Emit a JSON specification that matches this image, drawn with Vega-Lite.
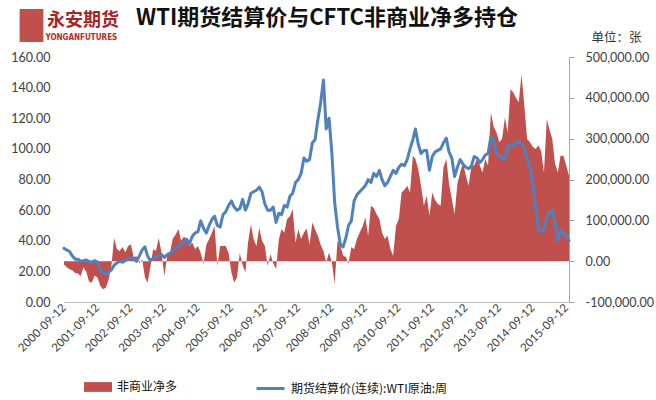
{
  "$schema": "https://vega.github.io/schema/vega-lite/v6.json",
  "width": 505,
  "height": 245,
  "autosize": {"type": "none"},
  "padding": {"left": 64, "top": 57, "right": 87, "bottom": 98},
  "background": "white",
  "config": {"view": {"stroke": null}, "font": "Noto Sans CJK SC", "legend": {"padding": 0}, "axis": {"labelOverlap": false}},
  "title": {"text": "WTI期货结算价与CFTC非商业净多持仓", "anchor": "start", "frame": "group", "dx": 72, "dy": 32, "offset": 0, "baseline": "middle", "fontSize": 22, "fontWeight": "bold", "font": "Noto Sans CJK SC", "color": "#111111"},
  "data": {"values": [
    {"d":"2000-09-12","p":35,"n":-8000},{"d":"2000-10-12","p":34,"n":-15000},{"d":"2000-11-12","p":33,"n":-20000},{"d":"2000-12-12","p":30,"n":-22000},
    {"d":"2001-01-12","p":28,"n":-29000},{"d":"2001-02-12","p":28,"n":-30000},{"d":"2001-03-12","p":26.5,"n":-37000},{"d":"2001-04-12","p":27,"n":-15000},{"d":"2001-05-12","p":27.5,"n":-25000},{"d":"2001-06-12","p":26.5,"n":-50000},{"d":"2001-07-12","p":26,"n":-53000},{"d":"2001-08-12","p":27,"n":-35000},{"d":"2001-09-12","p":26,"n":-40000},{"d":"2001-10-12","p":21,"n":-60000},{"d":"2001-11-12","p":19,"n":-69000},{"d":"2001-12-12","p":18,"n":-65000},
    {"d":"2002-01-12","p":19.5,"n":-45000},{"d":"2002-02-12","p":21,"n":-10000},{"d":"2002-03-12","p":24,"n":57000},{"d":"2002-04-12","p":25.5,"n":30000},{"d":"2002-05-12","p":26.5,"n":25000},{"d":"2002-06-12","p":26,"n":35000},{"d":"2002-07-12","p":27,"n":22000},{"d":"2002-08-12","p":28,"n":37000},{"d":"2002-09-12","p":29,"n":41000},{"d":"2002-10-12","p":28,"n":10000},{"d":"2002-11-12","p":26.5,"n":12000},{"d":"2002-12-12","p":30,"n":-5000},
    {"d":"2003-01-12","p":34,"n":5000},{"d":"2003-02-12","p":36,"n":-40000},{"d":"2003-03-12","p":30,"n":-53000},{"d":"2003-04-12","p":27,"n":-15000},{"d":"2003-05-12","p":28.5,"n":29000},{"d":"2003-06-12","p":29.5,"n":25000},{"d":"2003-07-12","p":30.5,"n":57000},{"d":"2003-08-12","p":31,"n":20000},{"d":"2003-09-12","p":29,"n":-37000},{"d":"2003-10-12","p":31,"n":12000},{"d":"2003-11-12","p":32,"n":20000},{"d":"2003-12-12","p":33,"n":55000},
    {"d":"2004-01-12","p":35,"n":65000},{"d":"2004-02-12","p":36,"n":79000},{"d":"2004-03-12","p":38,"n":50000},{"d":"2004-04-12","p":39,"n":60000},{"d":"2004-05-12","p":41,"n":55000},{"d":"2004-06-12","p":38,"n":37000},{"d":"2004-07-12","p":43,"n":45000},{"d":"2004-08-12","p":45,"n":30000},{"d":"2004-09-12","p":46,"n":37000},{"d":"2004-10-12","p":53,"n":20000},{"d":"2004-11-12","p":48,"n":-7000},{"d":"2004-12-12","p":45,"n":40000},
    {"d":"2005-01-12","p":50,"n":54000},{"d":"2005-02-12","p":54,"n":70000},{"d":"2005-03-12","p":56,"n":86000},{"d":"2005-04-12","p":50,"n":-11000},{"d":"2005-05-12","p":49,"n":37000},{"d":"2005-06-12","p":57,"n":37000},{"d":"2005-07-12","p":59,"n":37000},{"d":"2005-08-12","p":63,"n":20000},{"d":"2005-09-12","p":66,"n":-28000},{"d":"2005-10-12","p":62,"n":-52000},{"d":"2005-11-12","p":60,"n":-40000},{"d":"2005-12-12","p":61,"n":20000},
    {"d":"2006-01-12","p":67,"n":-10000},{"d":"2006-02-12","p":60,"n":-28000},{"d":"2006-03-12","p":64,"n":45000},{"d":"2006-04-12","p":71,"n":90000},{"d":"2006-05-12","p":72,"n":54000},{"d":"2006-06-12","p":73,"n":37000},{"d":"2006-07-12","p":75,"n":82000},{"d":"2006-08-12","p":72,"n":50000},{"d":"2006-09-12","p":64,"n":37000},{"d":"2006-10-12","p":60,"n":-11000},{"d":"2006-11-12","p":60,"n":17000},{"d":"2006-12-12","p":62,"n":-5000},
    {"d":"2007-01-12","p":52,"n":-20000},{"d":"2007-02-12","p":58,"n":54000},{"d":"2007-03-12","p":57,"n":78000},{"d":"2007-04-12","p":63,"n":70000},{"d":"2007-05-12","p":62,"n":103000},{"d":"2007-06-12","p":69,"n":110000},{"d":"2007-07-12","p":71,"n":127000},{"d":"2007-08-12","p":78,"n":45000},{"d":"2007-09-12","p":80,"n":78000},{"d":"2007-10-12","p":84,"n":54000},{"d":"2007-11-12","p":94,"n":70000},{"d":"2007-12-12","p":92,"n":80000},
    {"d":"2008-01-12","p":93,"n":40000},{"d":"2008-02-12","p":104,"n":95000},{"d":"2008-03-12","p":106,"n":78000},{"d":"2008-04-12","p":119,"n":62000},{"d":"2008-05-12","p":130,"n":40000},{"d":"2008-06-12","p":145,"n":25000},{"d":"2008-07-12","p":113,"n":-3000},{"d":"2008-08-12","p":120,"n":21000},{"d":"2008-09-12","p":97,"n":-3000},{"d":"2008-10-12","p":65,"n":-55000},{"d":"2008-11-12","p":49,"n":50000},{"d":"2008-12-12","p":38,"n":40000},
    {"d":"2009-01-12","p":36,"n":13000},{"d":"2009-02-12","p":42,"n":10000},{"d":"2009-03-12","p":50,"n":-7000},{"d":"2009-04-12","p":53,"n":35000},{"d":"2009-05-12","p":66,"n":29000},{"d":"2009-06-12","p":70,"n":54000},{"d":"2009-07-12","p":72,"n":70000},{"d":"2009-08-12","p":74,"n":85000},{"d":"2009-09-12","p":76,"n":107000},{"d":"2009-10-12","p":80,"n":62000},{"d":"2009-11-12","p":78,"n":136000},{"d":"2009-12-12","p":84,"n":130000},
    {"d":"2010-01-12","p":82,"n":115000},{"d":"2010-02-12","p":86,"n":103000},{"d":"2010-03-12","p":80,"n":70000},{"d":"2010-04-12","p":76,"n":54000},{"d":"2010-05-12","p":78,"n":62000},{"d":"2010-06-12","p":82,"n":30000},{"d":"2010-07-12","p":86,"n":13000},{"d":"2010-08-12","p":84,"n":87000},{"d":"2010-09-12","p":88,"n":103000},{"d":"2010-10-12","p":90,"n":168000},{"d":"2010-11-12","p":89,"n":175000},{"d":"2010-12-12","p":93,"n":185000},
    {"d":"2011-01-12","p":100,"n":168000},{"d":"2011-02-12","p":106,"n":258000},{"d":"2011-03-12","p":113,"n":250000},{"d":"2011-04-12","p":103,"n":225000},{"d":"2011-05-12","p":97,"n":185000},{"d":"2011-06-12","p":99,"n":136000},{"d":"2011-07-12","p":99,"n":160000},{"d":"2011-08-12","p":86,"n":111000},{"d":"2011-09-12","p":95,"n":168000},{"d":"2011-10-12","p":98,"n":150000},{"d":"2011-11-12","p":99,"n":140000},{"d":"2011-12-12","p":100,"n":136000},
    {"d":"2012-01-12","p":104,"n":230000},{"d":"2012-02-12","p":107,"n":250000},{"d":"2012-03-12","p":98,"n":190000},{"d":"2012-04-12","p":94,"n":152000},{"d":"2012-05-12","p":82,"n":115000},{"d":"2012-06-12","p":88,"n":190000},{"d":"2012-07-12","p":93,"n":217000},{"d":"2012-08-12","p":90,"n":242000},{"d":"2012-09-12","p":88,"n":209000},{"d":"2012-10-12","p":87,"n":185000},{"d":"2012-11-12","p":89,"n":234000},{"d":"2012-12-12","p":95,"n":234000},
    {"d":"2013-01-12","p":94,"n":250000},{"d":"2013-02-12","p":91,"n":234000},{"d":"2013-03-12","p":93,"n":217000},{"d":"2013-04-12","p":96,"n":250000},{"d":"2013-05-12","p":97,"n":234000},{"d":"2013-06-12","p":108,"n":364000},{"d":"2013-07-12","p":106,"n":330000},{"d":"2013-08-12","p":97,"n":315000},{"d":"2013-09-12","p":95,"n":291000},{"d":"2013-10-12","p":94,"n":300000},{"d":"2013-11-12","p":93,"n":352000},{"d":"2013-12-12","p":101,"n":315000},
    {"d":"2014-01-12","p":103,"n":421000},{"d":"2014-02-12","p":102,"n":413000},{"d":"2014-03-12","p":104,"n":400000},{"d":"2014-04-12","p":105,"n":389000},{"d":"2014-05-12","p":103,"n":458000},{"d":"2014-06-12","p":100,"n":380000},{"d":"2014-07-12","p":94,"n":299000},{"d":"2014-08-12","p":88,"n":291000},{"d":"2014-09-12","p":78,"n":280000},{"d":"2014-10-12","p":62,"n":275000},{"d":"2014-11-12","p":48,"n":283000},{"d":"2014-12-12","p":46,"n":270000},
    {"d":"2015-01-12","p":47,"n":217000},{"d":"2015-02-12","p":55,"n":348000},{"d":"2015-03-12","p":59,"n":323000},{"d":"2015-04-12","p":60,"n":300000},{"d":"2015-05-12","p":52,"n":240000},{"d":"2015-06-12","p":40,"n":217000},{"d":"2015-07-12","p":47,"n":258000},{"d":"2015-08-12","p":45,"n":258000},{"d":"2015-09-12","p":44,"n":234000},{"d":"2015-10-12","p":40,"n":209000}
  ]},
  "encoding": {
    "x": {
      "field": "d", "type": "temporal",
      "scale": {"type": "utc", "domain": [{"year": 2000, "month": 9, "date": 12, "utc": true}, {"year": 2015, "month": 10, "date": 12, "utc": true}]},
      "axis": {
        "values": [
          {"year": 2000, "month": 9, "date": 12, "utc": true}, {"year": 2001, "month": 9, "date": 12, "utc": true}, {"year": 2002, "month": 9, "date": 12, "utc": true}, {"year": 2003, "month": 9, "date": 12, "utc": true},
          {"year": 2004, "month": 9, "date": 12, "utc": true}, {"year": 2005, "month": 9, "date": 12, "utc": true}, {"year": 2006, "month": 9, "date": 12, "utc": true}, {"year": 2007, "month": 9, "date": 12, "utc": true},
          {"year": 2008, "month": 9, "date": 12, "utc": true}, {"year": 2009, "month": 9, "date": 12, "utc": true}, {"year": 2010, "month": 9, "date": 12, "utc": true}, {"year": 2011, "month": 9, "date": 12, "utc": true},
          {"year": 2012, "month": 9, "date": 12, "utc": true}, {"year": 2013, "month": 9, "date": 12, "utc": true}, {"year": 2014, "month": 9, "date": 12, "utc": true}, {"year": 2015, "month": 9, "date": 12, "utc": true}
        ],
        "labelExpr": "utcFormat(datum.value, '%Y-%m-%d')",
        "labelAngle": -45, "labelAlign": "right", "labelBaseline": "middle", "labelPadding": 4,
        "labelFont": "Lato", "labelFontSize": 11.5, "labelColor": "#404040",
        "labelOverlap": false, "labelFlush": false, "labelBound": false,
        "ticks": false, "grid": false, "domainColor": "#BFBFBF", "domainWidth": 1,
        "title": "YONGANFUTURES", "titleX": -19, "titleY": -265, "titleAlign": "left", "titleBaseline": "middle", "titleAngle": 0,
        "titleFont": "Liberation Sans Narrow, DejaVu Sans Condensed, sans-serif", "titleFontSize": 8, "titleFontWeight": "bold", "titleColor": "#C0282A"
      }
    }
  },
  "layer": [
    {
      "mark": {"type": "area", "interpolate": "linear"},
      "encoding": {
        "y": {
          "field": "n", "type": "quantitative",
          "scale": {"domain": [-100000, 500000], "nice": false, "zero": false},
          "axis": {
            "orient": "right", "values": [-100000, 0, 100000, 200000, 300000, 400000, 500000],
            "labelExpr": "replace(format(datum.value, ',.2f'), '\u2212', '-')",
            "grid": false, "domainColor": "#A6A6A6", "tickColor": "#A6A6A6", "tickSize": 5, "labelPadding": 11,
            "labelFont": "Lato", "labelFontSize": 12.5, "labelColor": "#404040",
            "title": "单位：张", "titleAngle": 0, "titleX": 22, "titleY": -20, "titleAlign": "left", "titleBaseline": "middle",
            "titleFont": "Noto Sans CJK SC", "titleFontSize": 12.5, "titleFontWeight": "normal", "titleColor": "#333333"
          }
        },
        "y2": {"datum": 0},
        "fill": {
          "datum": "非商业净多", "type": "nominal",
          "scale": {"range": ["#C0504D"]},
          "legend": {"orient": "none", "legendX": 20, "legendY": 316, "title": null, "symbolType": "M-1,-0.35H1V0.35H-1Z", "symbolSize": 784, "symbolStrokeWidth": 0, "labelFont": "Noto Sans CJK SC", "labelFontSize": 12, "labelColor": "#111111", "labelOffset": 5}
        },
        "opacity": {
          "datum": "永安期货", "type": "ordinal",
          "scale": {"range": [1]},
          "legend": {"orient": "none", "legendX": -50, "legendY": -49, "title": null, "symbolType": "M-0.72,-1H0.72V1H-0.72Z", "symbolSize": 1089, "symbolFillColor": "#D42A2A", "symbolStrokeColor": "#D42A2A", "labelFont": "Noto Sans CJK SC", "labelFontSize": 18, "labelFontWeight": "bold", "labelColor": "#A82424", "labelOffset": -2, "labelBaseline": "alphabetic",
            "encode": {"symbols": {"update": {"fill": {"value": "#D42A2A"}, "stroke": {"value": "#D42A2A"}, "opacity": {"value": 1}}}, "labels": {"update": {"dy": {"value": 3}}}}}
        }
      }
    },
    {
      "mark": {"type": "line", "strokeWidth": 3, "strokeJoin": "round", "strokeCap": "round"},
      "encoding": {
        "y": {
          "field": "p", "type": "quantitative",
          "scale": {"domain": [0, 160], "nice": false},
          "axis": {
            "orient": "left", "values": [0, 20, 40, 60, 80, 100, 120, 140, 160], "format": ".2f",
            "domain": false, "ticks": false, "grid": false, "labelPadding": 14,
            "labelFont": "Lato", "labelFontSize": 12.5, "labelColor": "#404040", "title": null
          }
        },
        "stroke": {
          "datum": "期货结算价(连续):WTI原油:周", "type": "nominal",
          "scale": {"range": ["#4F81BD"]},
          "legend": {"orient": "none", "legendX": 191, "legendY": 316, "title": null, "symbolType": "stroke", "symbolSize": 784, "symbolStrokeWidth": 3, "labelFont": "Noto Sans CJK SC", "labelFontSize": 12, "labelColor": "#111111", "labelOffset": 5}
        }
      }
    }
  ],
  "resolve": {"scale": {"y": "independent"}}
}
